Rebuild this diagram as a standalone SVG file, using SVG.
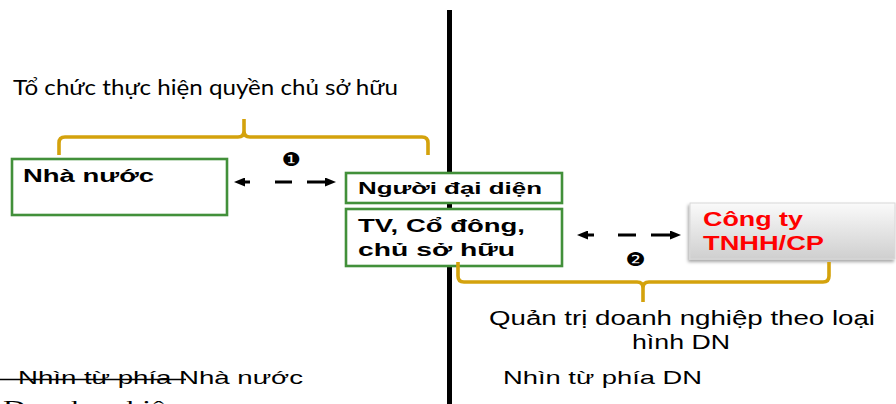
<svg xmlns="http://www.w3.org/2000/svg" width="896" height="404" viewBox="0 0 896 404">
<style>
.box{fill:#ffffff;stroke:#42903a;stroke-width:2.6}
.bt{font-family:"Liberation Sans",Arial,sans-serif;font-weight:bold;fill:#000}
.rt{font-family:"Liberation Sans",Arial,sans-serif;fill:#000}
.brace{fill:none;stroke:#d4a20c;stroke-width:3.6;stroke-linejoin:round;stroke-linecap:butt}
.conn{fill:none;stroke:#000;stroke-width:3}
.num{font-family:"DejaVu Sans",sans-serif;font-size:19px;fill:#000}
</style>
<defs>
<marker id="ah" viewBox="0 0 11 9" refX="5" refY="4.5" markerWidth="11" markerHeight="9" markerUnits="userSpaceOnUse" orient="auto-start-reverse">
<path d="M0,0 L11,4.5 L0,9 Z" fill="#000"/>
</marker>
<linearGradient id="gray" x1="0" y1="0" x2="0" y2="1">
<stop offset="0" stop-color="#fafafa"/>
<stop offset="1" stop-color="#cfcfcf"/>
</linearGradient>
<filter id="sh" x="-10%" y="-20%" width="120%" height="150%">
<feDropShadow dx="-1.5" dy="2.5" stdDeviation="1.5" flood-color="#000" flood-opacity="0.35"/>
</filter>
</defs>

<rect x="447" y="10" width="5" height="394" fill="#000"/>

<text class="rt" x="13" y="95" style="font-family:Lato,'Liberation Sans',sans-serif" font-size="22" textLength="385" lengthAdjust="spacingAndGlyphs">Tổ chức thực hiện quyền chủ sở hữu</text>

<g id="nha-nuoc">
<rect class="box" x="12" y="159" width="215" height="56"/>
<text class="bt" x="23" y="182" font-size="18" textLength="131" lengthAdjust="spacingAndGlyphs">Nhà nước</text>
</g>

<g id="nguoi-dai-dien">
<rect class="box" x="346" y="173" width="216" height="30"/>
<text class="bt" x="358" y="194" font-size="16.5" textLength="184" lengthAdjust="spacingAndGlyphs">Người đại diện</text>
</g>

<g id="tv-co-dong">
<rect class="box" x="346" y="209" width="216" height="57"/>
<text class="bt" x="358" y="232" font-size="18" textLength="167" lengthAdjust="spacingAndGlyphs">TV, Cổ đông,</text>
<text class="bt" x="358" y="256" font-size="18" textLength="157" lengthAdjust="spacingAndGlyphs">chủ sở hữu</text>
</g>

<g id="cong-ty">
<rect x="690" y="203" width="205" height="56" fill="url(#gray)" stroke="#d8d8d8" stroke-width="1" filter="url(#sh)"/>
<text class="bt" x="703" y="226" font-size="20" style="fill:#ff0000" textLength="100" lengthAdjust="spacingAndGlyphs">Công ty</text>
<text class="bt" x="703" y="250" font-size="20" style="fill:#ff0000" textLength="121" lengthAdjust="spacingAndGlyphs">TNHH/CP</text>
</g>

<g id="connectors">
<path class="conn" d="M240,182 L330,182" stroke-dasharray="10 25 17 15 23" marker-start="url(#ah)" marker-end="url(#ah)"/>
<text class="num" x="281.5" y="166" textLength="19" lengthAdjust="spacingAndGlyphs">❶</text>
<path class="conn" d="M583,235 L675,235" stroke-dasharray="11 24 18 15 24" marker-start="url(#ah)" marker-end="url(#ah)"/>
<text class="num" x="625.5" y="265.5" textLength="20" lengthAdjust="spacingAndGlyphs">❷</text>
</g>

<g id="braces">
<path class="brace" d="M59,155 L59,143 Q59,137 65,137 L238,137 Q244,137 244,131 L244,119 M244,131 Q244,137 250,137 L422,137 Q428,137 428,143 L428,155"/>
<path class="brace" d="M458,262 L458,276 Q458,282 464,282 L637,282 Q643,282 643,288 L643,302 M643,288 Q643,282 649,282 L823,282 Q829,282 829,276 L829,262"/>
</g>

<text class="rt" x="489" y="325" font-size="19.5" textLength="386" lengthAdjust="spacingAndGlyphs">Quản trị doanh nghiệp theo loại</text>
<text class="rt" x="632" y="349" font-size="19.5" textLength="98" lengthAdjust="spacingAndGlyphs">hình DN</text>
<text class="rt" x="503" y="384" font-size="18.5" textLength="199" lengthAdjust="spacingAndGlyphs">Nhìn từ phía DN</text>
<text class="rt" x="18" y="384" font-size="18.5" textLength="285" lengthAdjust="spacingAndGlyphs">Nhìn từ phía Nhà nước</text>
<line x1="0" y1="379.5" x2="186" y2="379.5" stroke="#000" stroke-width="1.5"/>
<text x="3" y="415" font-family="'Liberation Serif','Times New Roman',serif" font-size="21" textLength="162" lengthAdjust="spacingAndGlyphs" fill="#000">Doanh nghiệ</text>
</svg>
